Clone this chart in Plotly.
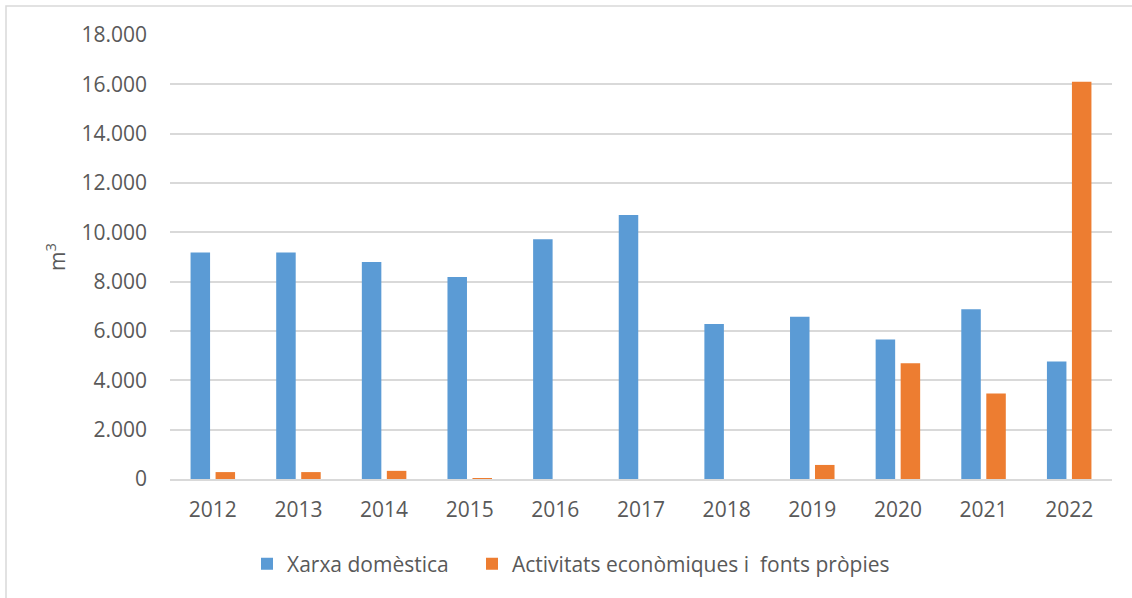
import plotly.graph_objects as go

years = ["2012", "2013", "2014", "2015", "2016", "2017", "2018", "2019", "2020", "2021", "2022"]
xarxa_domestica = [9180, 9180, 8800, 8190, 9720, 10700, 6280, 6580, 5660, 6880, 4760]
activitats = [280, 280, 330, 10, 0, 0, 0, 570, 4690, 3470, 16100]
y_ticks = [0, 2000, 4000, 6000, 8000, 10000, 12000, 14000, 16000, 18000]

name_blue = "Xarxa domèstica"
name_orange = "Activitats econòmiques i \u00a0fonts pròpies"

FONT = "Open Sans"
GRAY = "#595959"

fig = go.Figure()
fig.add_trace(go.Bar(x=years, y=xarxa_domestica, name=name_blue, legendwidth=180,
                     marker=dict(color="#5B9BD5", line=dict(width=0))))
fig.add_trace(go.Bar(x=years, y=activitats, name=name_orange,
                     marker=dict(color="#ED7D31", line=dict(width=0))))

L, R, T, B = 170, 20, 35, 119
W, H = 1132, 598
pw, ph = W - L - R, H - T - B

def px_x(px):
    return (px - L) / pw

def px_y(py):
    return (H - B - py) / ph

fig.update_layout(
    width=W, height=H,
    margin=dict(l=L, r=R, t=T, b=B),
    paper_bgcolor="white", plot_bgcolor="white",
    separators=",.",
    barmode="group", bargap=0.416, bargroupgap=0.22,
    font=dict(family=FONT, color=GRAY, size=21),
    showlegend=True,
    legend=dict(orientation="h", x=px_x(247), xanchor="left", y=px_y(564), yanchor="middle",
                font=dict(size=21, color=GRAY, family=FONT), itemwidth=30,
                tracegroupgap=0, bgcolor="rgba(0,0,0,0)"),
    xaxis=dict(showgrid=False, showline=True, linecolor="#D9D9D9", linewidth=2,
               ticks="", ticklabelstandoff=11, tickfont=dict(size=21, color=GRAY)),
    yaxis=dict(range=[0, 18000], tickvals=y_ticks, tickformat=",d",
               showgrid=True, gridcolor="#D9D9D9", gridwidth=2,
               zeroline=False, showline=False, ticks="", ticklabelstandoff=22,
               tickfont=dict(size=21, color=GRAY),
               title=dict(text="m<sup>3</sup>", font=dict(size=21, color=GRAY), standoff=10)),
    shapes=[dict(type="rect", xref="paper", yref="paper",
                 x0=px_x(6), x1=px_x(W + 20), y0=px_y(H + 20), y1=px_y(6),
                 line=dict(color="#D9D9D9", width=1.5), fillcolor="rgba(0,0,0,0)", layer="below")],
)

fig.write_html("out.html", config={"displayModeBar": False},
               post_script="document.body.style.margin='0';")
